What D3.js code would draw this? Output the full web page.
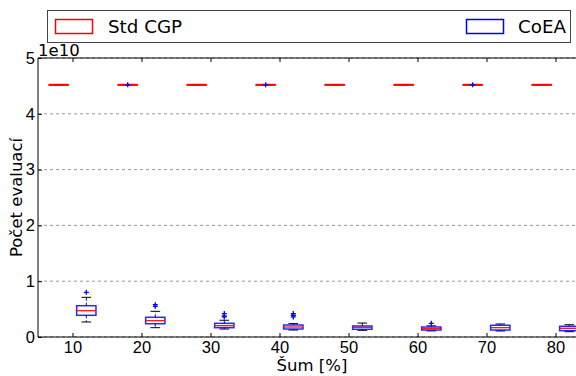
<!DOCTYPE html>
<html><head><meta charset="utf-8">
<script src="https://cdn.jsdelivr.net/npm/d3@7"></script>
<style>body{margin:0;background:#fff}svg{display:block;font-family:"DejaVu Sans",sans-serif}</style>
</head><body><svg id="c" width="576" height="376"></svg>
<script>
// values in units of 1e10
const categories = [10,20,30,40,50,60,70,80];
const seriesNames = ["Std CGP","CoEA"];
const seriesColors = ["red","blue"];
const seriesOffsets = [-2, 2];
const yTicks = [0,1,2,3,4,5];

const stdMed = [4.52,4.52,4.52,4.52,4.52,4.52,4.52,4.52];
const stdQ1  = [4.518,4.518,4.518,4.518,4.518,4.518,4.518,4.518];
const stdQ3  = [4.522,4.522,4.522,4.522,4.522,4.522,4.522,4.522];
const stdLo  = [4.515,4.515,4.515,4.515,4.515,4.515,4.515,4.515];
const stdHi  = [4.525,4.525,4.525,4.525,4.525,4.525,4.525,4.525];
const stdFliers = [[],[4.52],[],[4.52],[],[],[4.52],[]];

const coeaMed = [0.471,0.292,0.203,0.179,0.174,0.149,0.167,0.156];
const coeaQ1  = [0.389,0.238,0.167,0.143,0.138,0.125,0.125,0.113];
const coeaQ3  = [0.561,0.353,0.245,0.215,0.197,0.179,0.210,0.192];
const coeaLo  = [0.269,0.167,0.143,0.125,0.120,0.110,0.108,0.095];
const coeaHi  = [0.711,0.460,0.300,0.240,0.250,0.200,0.233,0.220];
const coeaFliers = [[0.80],[0.55,0.58],[0.36,0.38,0.42],[0.36,0.39,0.42],[],[0.245],[],[]];

const series = [
  {med:stdMed,q1:stdQ1,q3:stdQ3,lo:stdLo,hi:stdHi,fl:stdFliers},
  {med:coeaMed,q1:coeaQ1,q3:coeaQ3,lo:coeaLo,hi:coeaHi,fl:coeaFliers}
];

const svg = d3.select("#c");
const L=38, T=58, B=337, R=590;
const x = d3.scaleLinear().domain([5,85]).range([L,R]);
const y = d3.scaleLinear().domain([0,5]).range([B,T]);
const boxW = 2.8;

// grid
svg.append("g").selectAll("line").data(yTicks).join("line")
  .attr("x1",L).attr("x2",R).attr("y1",d=>y(d)).attr("y2",d=>y(d))
  .attr("stroke","#999").attr("stroke-width",1).attr("stroke-dasharray","3,3");

// boxes
series.forEach((s,si)=>{
  const g = svg.append("g");
  categories.forEach((c,i)=>{
    const cx = x(c+seriesOffsets[si]);
    const x0 = x(c+seriesOffsets[si]-boxW/2), x1 = x(c+seriesOffsets[si]+boxW/2);
    const cw = (x1-x0)/4;
    // whiskers
    g.append("line").attr("x1",cx).attr("x2",cx).attr("y1",y(s.q3[i])).attr("y2",y(s.hi[i]))
      .attr("stroke","blue").attr("stroke-width",1).attr("stroke-dasharray","3,2");
    g.append("line").attr("x1",cx).attr("x2",cx).attr("y1",y(s.q1[i])).attr("y2",y(s.lo[i]))
      .attr("stroke","blue").attr("stroke-width",1).attr("stroke-dasharray","3,2");
    // caps
    [s.lo[i],s.hi[i]].forEach(v=>{
      g.append("line").attr("x1",cx-cw).attr("x2",cx+cw).attr("y1",y(v)).attr("y2",y(v))
        .attr("stroke","black").attr("stroke-width",1);
    });
    // box
    g.append("rect").attr("x",x0).attr("y",y(s.q3[i])).attr("width",x1-x0)
      .attr("height",Math.max(0.5,y(s.q1[i])-y(s.q3[i])))
      .attr("fill","none").attr("stroke",seriesColors[si]).attr("stroke-width",1.5).attr("stroke-opacity",0.85);
    // median
    g.append("line").attr("x1",x0).attr("x2",x1).attr("y1",y(s.med[i])).attr("y2",y(s.med[i]))
      .attr("stroke","red").attr("stroke-width",si===0?2:1.2).attr("stroke-opacity",si===0?0.8:1);
    // fliers
    s.fl[i].forEach(v=>{
      const py=y(v);
      g.append("path").attr("d",`M${cx-2.5},${py}H${cx+2.5}M${cx},${py-2.5}V${py+2.5}`)
        .attr("stroke","blue").attr("stroke-width",1.3);
    });
  });
});

// spines
svg.append("line").attr("x1",L).attr("x2",L).attr("y1",T).attr("y2",B).attr("stroke","black");
svg.append("line").attr("x1",L).attr("x2",576).attr("y1",B).attr("y2",B).attr("stroke","black");
svg.append("line").attr("x1",L).attr("x2",576).attr("y1",T).attr("y2",T).attr("stroke","black");

// axes via d3 (inward ticks)
const xAxis = svg.append("g").attr("transform",`translate(0,${B})`)
  .call(d3.axisBottom(x).tickValues(categories).tickSizeInner(-4).tickSizeOuter(0).tickPadding(8));
const xTop = svg.append("g").attr("transform",`translate(0,${T})`)
  .call(d3.axisTop(x).tickValues(categories).tickSizeInner(-4).tickSizeOuter(0).tickFormat(""));
const yAxis = svg.append("g").attr("transform",`translate(${L},0)`)
  .call(d3.axisLeft(y).tickValues(yTicks).tickSizeInner(-4).tickSizeOuter(0).tickPadding(3).tickFormat(d3.format("d")));
[xAxis,xTop,yAxis].forEach(a=>{a.select(".domain").remove();a.selectAll("line").attr("stroke","#000");});
xAxis.selectAll("text").attr("font-size",16.5).attr("fill","#000").attr("dy","0.71em").attr("y",4);
yAxis.selectAll("text").attr("font-size",16.5).attr("fill","#000");

// offset text
svg.append("text").attr("x",L).attr("y",56).attr("font-size",16.5).text("1e10");

// axis titles
svg.append("text").attr("x",312).attr("y",371).attr("text-anchor","middle").attr("font-size",16.5).text("Šum [%]");
svg.append("text").attr("transform",`translate(22,${(T+B)/2}) rotate(-90)`).attr("text-anchor","middle").attr("font-size",16.5).text("Počet evaluací");

// legend
const lg = svg.append("g");
lg.append("rect").attr("x",47.5).attr("y",10.5).attr("width",523).attr("height",32).attr("fill","#fff").attr("stroke","#444");
const legX = [[55,108],[466,518]];
seriesNames.forEach((n,i)=>{
  lg.append("rect").attr("x",legX[i][0]+0.5).attr("y",19.5).attr("width",37).attr("height",14)
    .attr("fill","none").attr("stroke",seriesColors[i]).attr("stroke-width",1.5);
  lg.append("text").attr("x",legX[i][1]).attr("y",33).attr("font-size",18.3).text(n);
});
</script></body></html>
